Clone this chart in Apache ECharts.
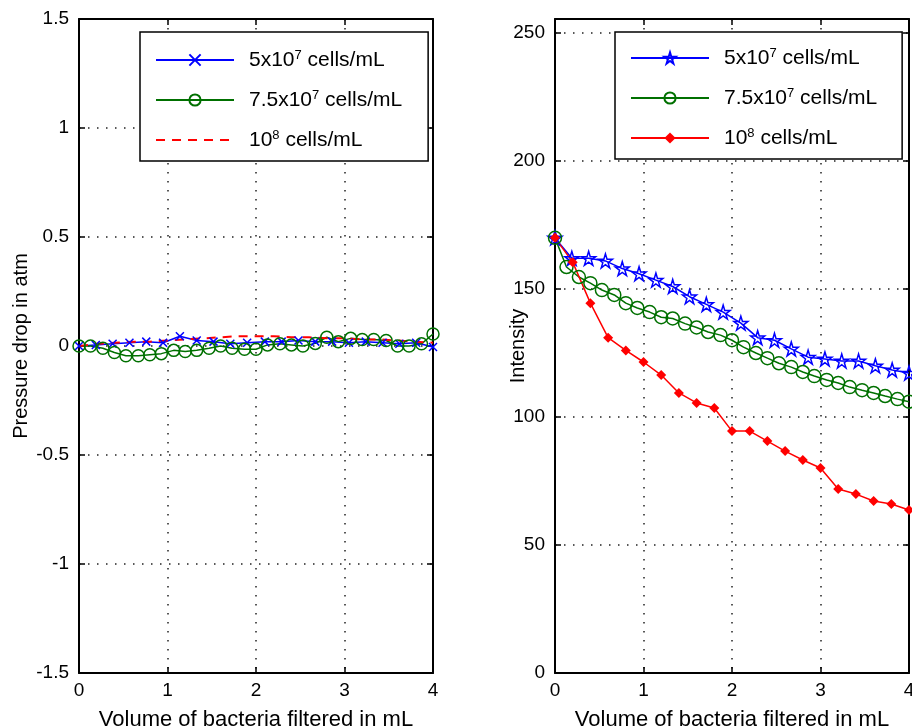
<!DOCTYPE html>
<html>
<head>
<meta charset="utf-8">
<script src="https://cdn.jsdelivr.net/npm/echarts@6/dist/echarts.min.js"></script>
<style>html,body{margin:0;padding:0;background:#fff}#c{width:912px;height:727px}</style>
</head>
<body>
<div id="c"></div>
<script>
// ---------- data ----------
const seriesNames = ['5x10^7 cells/mL', '7.5x10^7 cells/mL', '10^8 cells/mL'];
const xTicks = [0, 1, 2, 3, 4];
const leftYTicks = [-1.5, -1, -0.5, 0, 0.5, 1, 1.5];
const rightYTicks = [0, 50, 100, 150, 200, 250];

// x positions (mL)
const xBlue = [0, 0.19, 0.38, 0.57, 0.76, 0.95, 1.14, 1.33, 1.52, 1.71, 1.9, 2.1, 2.29, 2.48, 2.67, 2.86, 3.05, 3.24, 3.43, 3.62, 3.81, 4.0];
const xGreen = [0, 0.13, 0.27, 0.4, 0.53, 0.67, 0.8, 0.93, 1.07, 1.2, 1.33, 1.47, 1.6, 1.73, 1.87, 2.0, 2.13, 2.27, 2.4, 2.53, 2.67, 2.8, 2.93, 3.07, 3.2, 3.33, 3.47, 3.6, 3.73, 3.87, 4.0];
const xRed = [0, 0.2, 0.4, 0.6, 0.8, 1.0, 1.2, 1.4, 1.6, 1.8, 2.0, 2.2, 2.4, 2.6, 2.8, 3.0, 3.2, 3.4, 3.6, 3.8, 4.0];

// left panel: pressure drop (atm)
const pressureBlue = [0, 0.005, 0.01, 0.015, 0.02, 0.015, 0.045, 0.025, 0.02, 0.01, 0.015, 0.02, 0.02, 0.025, 0.02, 0.02, 0.015, 0.02, 0.015, 0.01, 0.015, -0.005];
const pressureGreen = [0, 0, -0.01, -0.03, -0.045, -0.045, -0.04, -0.035, -0.02, -0.025, -0.02, -0.01, 0, -0.01, -0.015, -0.015, 0.005, 0.01, 0.005, 0, 0.012, 0.04, 0.02, 0.035, 0.03, 0.03, 0.025, 0, 0, 0.01, 0.055];
const pressureRed = [0, 0.01, 0.015, 0.02, 0.02, 0.025, 0.03, 0.035, 0.04, 0.045, 0.045, 0.045, 0.04, 0.04, 0.035, 0.035, 0.03, 0.03, 0.025, 0.02, 0.015];

// right panel: intensity
const intensityBlue = [170, 162, 162, 161, 158, 156, 153.5, 151, 147, 144, 141, 136.7, 131, 130, 126.6, 123.4, 122.7, 121.9, 121.9, 120, 118.4, 117.2];
const intensityGreen = [170, 158.6, 154.7, 152.3, 149.6, 147.7, 144.5, 142.6, 141, 139, 138.5, 136.5, 135, 133.2, 132, 130, 127.3, 125, 123, 121, 119.5, 117.6, 116, 114.5, 113.3, 111.7, 110.5, 109.4, 108.2, 107, 106];
const intensityRed = [170, 160.5, 144.5, 131, 126, 121.5, 116.4, 109.4, 105.5, 103.5, 94.5, 94.5, 90.6, 86.7, 83.2, 80.1, 71.9, 69.9, 67.2, 66.0, 63.7];

// ---------- chart ----------
const FONT = 'Liberation Sans, Arial, sans-serif';
const BLUE = '#0000ff', GREEN = '#007000', RED = '#ff0000';
const pair = (xs, ys) => xs.map((x, i) => [x, ys[i]]);
const STAR = 'path://M50,0 L61,35 L98,35 L68,57 L79,91 L50,70 L21,91 L32,57 L2,35 L39,35 Z';
const XMARK = 'path://M0,0 L10,10 M10,0 L0,10';

const chart = echarts.init(document.getElementById('c'));

function xAxes(gi, name) {
  return [{
    type: 'value', gridIndex: gi, min: 0, max: 4, interval: 1, position: 'bottom',
    name: name, nameLocation: 'middle', nameGap: 36, nameMoveOverlap: false,
    nameTextStyle: { fontFamily: FONT, fontSize: 22, color: '#000' },
    axisLine: { show: true, onZero: false, lineStyle: { color: '#000', width: 2 } },
    axisTick: { show: true, inside: true, length: 6, lineStyle: { color: '#000', width: 1.5 } },
    axisLabel: { fontFamily: FONT, fontSize: 19, color: '#000', margin: 8,
      formatter: v => xTicks.includes(v) ? String(v) : '' },
    splitLine: { show: true, lineStyle: { color: '#222', width: 1.5, type: [1.5, 7.5] } }
  }, {
    type: 'value', gridIndex: gi, min: 0, max: 4, interval: 1, position: 'top',
    axisLine: { show: true, onZero: false, lineStyle: { color: '#000', width: 2 } },
    axisTick: { show: true, inside: true, length: 6, lineStyle: { color: '#000', width: 1.5 } },
    axisLabel: { show: false }, splitLine: { show: false }
  }];
}
function yAxes(gi, min, max, interval, name, gap, ticks) {
  return [{
    type: 'value', gridIndex: gi, min: min, max: max, interval: interval, position: 'left',
    name: name, nameLocation: 'middle', nameGap: gap, nameRotate: 90, nameMoveOverlap: false,
    nameTextStyle: { fontFamily: FONT, fontSize: 20, color: '#000' },
    axisLine: { show: true, onZero: false, lineStyle: { color: '#000', width: 2 } },
    axisTick: { show: true, inside: true, length: 6, lineStyle: { color: '#000', width: 1.5 } },
    axisLabel: { fontFamily: FONT, fontSize: 19, color: '#000', margin: 10, showMaxLabel: ticks.includes(max),
      formatter: v => ticks.includes(v) ? String(v) : '' },
    splitLine: { show: true, lineStyle: { color: '#222', width: 1.5, type: [1.5, 7.5] } }
  }, {
    type: 'value', gridIndex: gi, min: min, max: max, interval: interval, position: 'right',
    axisLine: { show: true, onZero: false, lineStyle: { color: '#000', width: 2 } },
    axisTick: { show: true, inside: true, length: 6, lineStyle: { color: '#000', width: 1.5 } },
    axisLabel: { show: false }, splitLine: { show: false }
  }];
}

const legendText = {
  fontFamily: FONT, fontSize: 21, color: '#000', lineHeight: 22, padding: [0, 0, 0, 10],
  rich: { sup: { fontFamily: FONT, fontSize: 13, color: '#000', lineHeight: 12, verticalAlign: 'top' } }
};
const legendFmt = n => n.replace(/ \(R\)$/, '').replace(/\^(\d)/, '{sup|$1}');

function legend(left, top, data, pad) {
  return {
    orient: 'vertical', left: left, top: top, data: data,
    itemWidth: 78, itemHeight: 14, itemGap: 18,
    padding: pad, backgroundColor: '#fff', borderColor: '#000', borderWidth: 1.5, borderRadius: 0,
    selectedMode: false, textStyle: legendText, formatter: legendFmt
  };
}

const rNames = seriesNames.map(n => n + ' (R)');
const leftLegendData = [seriesNames[0], seriesNames[1],
  { name: seriesNames[2], itemStyle: { color: 'rgba(0,0,0,0)', borderWidth: 0, opacity: 0 } }];

const option = {
  animation: false,
  backgroundColor: '#fff',
  grid: [
    { left: 79, top: 19, width: 354, height: 654, outerBoundsMode: 'none' },
    { left: 555, top: 19, width: 354, height: 654, outerBoundsMode: 'none' }
  ],
  xAxis: [...xAxes(0, 'Volume of bacteria filtered in mL'), ...xAxes(1, 'Volume of bacteria filtered in mL')],
  yAxis: [...yAxes(0, -1.5, 1.5, 0.5, 'Pressure drop in atm', 48, leftYTicks),
          ...yAxes(1, 0, 255.5, 50, 'Intensity', 27, rightYTicks)],
  legend: [
    legend(140, 32, leftLegendData, [17, 26, 10, 15]),
    legend(615, 32, rNames, [15, 25, 10, 15])
  ],
  series: [
    { name: seriesNames[0], type: 'line', xAxisIndex: 0, yAxisIndex: 0, data: pair(xBlue, pressureBlue),
      symbol: XMARK, symbolSize: 8, lineStyle: { color: BLUE, width: 1.5 },
      itemStyle: { color: 'rgba(0,0,0,0)', borderColor: BLUE, borderWidth: 1.5 } },
    { name: seriesNames[1], type: 'line', xAxisIndex: 0, yAxisIndex: 0, data: pair(xGreen, pressureGreen),
      symbol: 'circle', symbolSize: 12, lineStyle: { color: GREEN, width: 1.5 },
      itemStyle: { color: 'rgba(0,0,0,0)', borderColor: GREEN, borderWidth: 1.5 } },
    { name: seriesNames[2], type: 'line', xAxisIndex: 0, yAxisIndex: 0, data: pair(xRed, pressureRed),
      symbol: 'none', lineStyle: { color: RED, width: 2, type: [9, 7] }, itemStyle: { color: RED } },

    { name: rNames[0], type: 'line', xAxisIndex: 2, yAxisIndex: 2, data: pair(xBlue, intensityBlue),
      symbol: STAR, symbolSize: 14, lineStyle: { color: BLUE, width: 1.5 },
      itemStyle: { color: 'rgba(0,0,0,0)', borderColor: BLUE, borderWidth: 1.5 } },
    { name: rNames[1], type: 'line', xAxisIndex: 2, yAxisIndex: 2, data: pair(xGreen, intensityGreen),
      symbol: 'circle', symbolSize: 13, lineStyle: { color: GREEN, width: 1.5 },
      itemStyle: { color: 'rgba(0,0,0,0)', borderColor: GREEN, borderWidth: 1.5 } },
    { name: rNames[2], type: 'line', xAxisIndex: 2, yAxisIndex: 2, data: pair(xRed, intensityRed),
      symbol: 'diamond', symbolSize: 10, lineStyle: { color: RED, width: 1.5 },
      itemStyle: { color: RED } }
  ]
};
chart.setOption(option);
</script>
</body>
</html>
